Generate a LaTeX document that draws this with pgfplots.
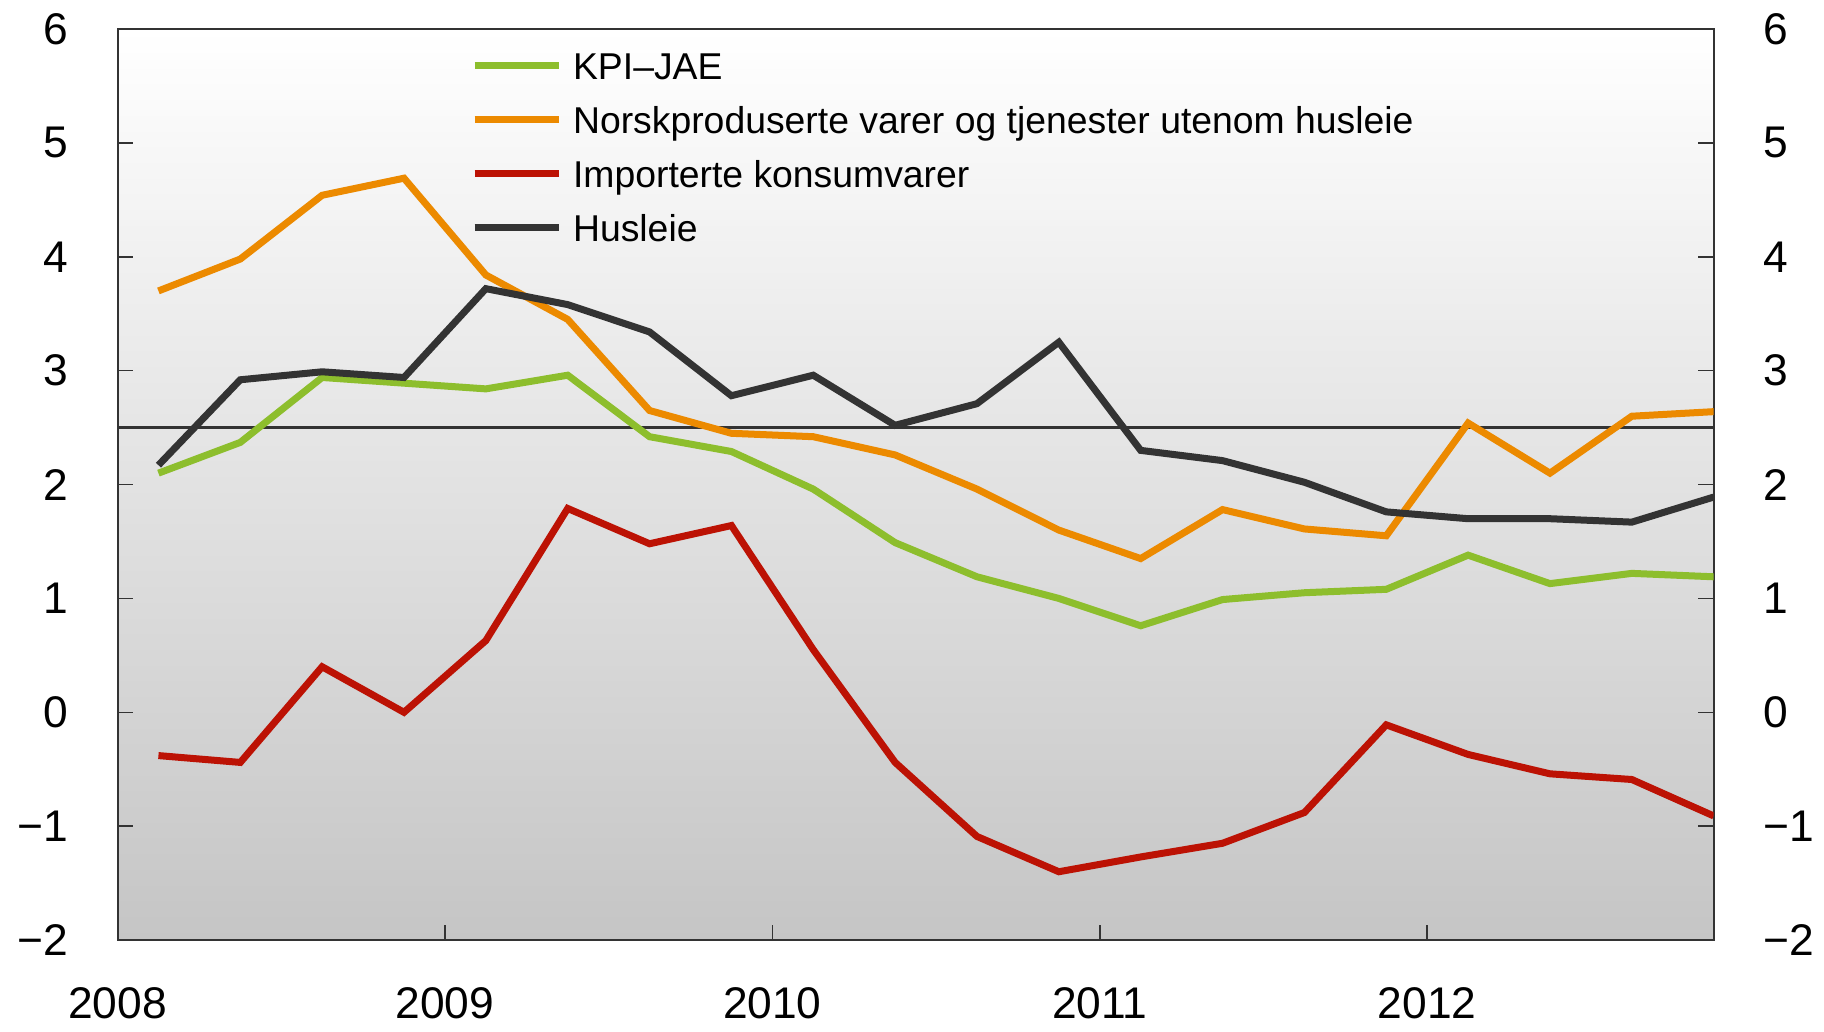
\documentclass[border=0pt]{standalone}
\usepackage{pgfplots}
\usepackage{pgfplotstable}
\pgfplotsset{compat=1.18}
\usepackage{fontspec}
\setmainfont{Liberation Sans}
\definecolor{cgreen}{RGB}{141,190,45}
\definecolor{corange}{RGB}{236,138,0}
\definecolor{cred}{RGB}{188,18,4}
\definecolor{cdark}{RGB}{51,51,51}
\definecolor{cbg}{RGB}{197,197,197}
\pgfplotstableread{
x        kpi   norsk  imp    hus
2008.125 2.10  3.70  -0.38   2.17
2008.375 2.37  3.98  -0.44   2.92
2008.625 2.94  4.54   0.40   2.99
2008.875 2.89  4.69   0.00   2.94
2009.125 2.84  3.84   0.63   3.72
2009.375 2.96  3.45   1.79   3.58
2009.625 2.42  2.65   1.48   3.34
2009.875 2.29  2.45   1.64   2.78
2010.125 1.96  2.42   0.55   2.96
2010.375 1.49  2.26  -0.44   2.52
2010.625 1.19  1.96  -1.09   2.71
2010.875 1.00  1.60  -1.40   3.25
2011.125 0.76  1.35  -1.27   2.30
2011.375 0.99  1.78  -1.15   2.21
2011.625 1.05  1.61  -0.88   2.02
2011.875 1.08  1.55  -0.11   1.76
2012.125 1.38  2.54  -0.37   1.70
2012.375 1.13  2.10  -0.54   1.70
2012.625 1.22  2.60  -0.59   1.67
2012.875 1.19  2.64  -0.91   1.89
}\datatable
\pgfplotsset{
  mybase/.style={
    scale only axis, width=478.8pt, height=273.3pt,
    xmin=2008, xmax=2012.875, ymin=-2, ymax=6,
    ytick={-2,-1,0,1,2,3,4,5,6},
    yticklabels={−2,−1,0,1,2,3,4,5,6},
    tick align=inside, major tick length=4.6pt,
    ticklabel style={font=\fontsize{13.3}{16}\selectfont, inner sep=0pt},
  }
}
\begin{document}
\begin{tikzpicture}
\begin{axis}[mybase, name=ax,
  axis background/.style={top color=white, bottom color=cbg},
  axis line style={cdark, line width=0.6pt},
  xtick={2008,2009,2010,2011,2012},
  xticklabels={2008,2009,2010,2011,2012},
  xtick pos=bottom, ytick pos=both, yticklabel pos=left,
  xticklabel style={anchor=north, yshift=-14.1pt},
  yticklabel style={anchor=east, xshift=-14.5pt},
  tick style={cdark, line width=0.45pt},
  legend cell align=left,
  legend style={draw=none, fill=none, at={(0.2215,1)}, anchor=north west, yshift=-6.9pt,
    font=\fontsize{11.2}{13}\selectfont, row sep=8.1pt, inner sep=0pt, outer sep=0pt,
    nodes={inner sep=0pt, text height=8.1pt, text depth=0pt},
    /tikz/every odd column/.append style={column sep=3.3pt}},
  legend image code/.code={\draw[#1] (0pt,0pt) -- (25.2pt,0pt);},
]
\addplot[cdark, line width=0.7pt, forget plot] coordinates {(2008,2.5) (2012.875,2.5)};
\addplot[cgreen, line width=2.1pt] table[x=x, y=kpi] {\datatable};
\addlegendentry{KPI–JAE}
\addplot[corange, line width=2.1pt] table[x=x, y=norsk] {\datatable};
\addlegendentry{Norskproduserte varer og tjenester utenom husleie}
\addplot[cred, line width=2.1pt] table[x=x, y=imp] {\datatable};
\addlegendentry{Importerte konsumvarer}
\addplot[cdark, line width=2.1pt] table[x=x, y=hus] {\datatable};
\addlegendentry{Husleie}
\end{axis}
\begin{axis}[mybase, at={(ax.south west)}, anchor=south west,
  axis x line=none, axis y line*=right, y axis line style={draw=none},
  major tick length=0pt, yticklabel pos=right,
  yticklabel style={anchor=west, xshift=14.8pt}]
\end{axis}
\path ([shift={(-35.25pt,-27.3pt)}]ax.south west) rectangle ([shift={(33.1pt,8.7pt)}]ax.north east);
\end{tikzpicture}
\end{document}
